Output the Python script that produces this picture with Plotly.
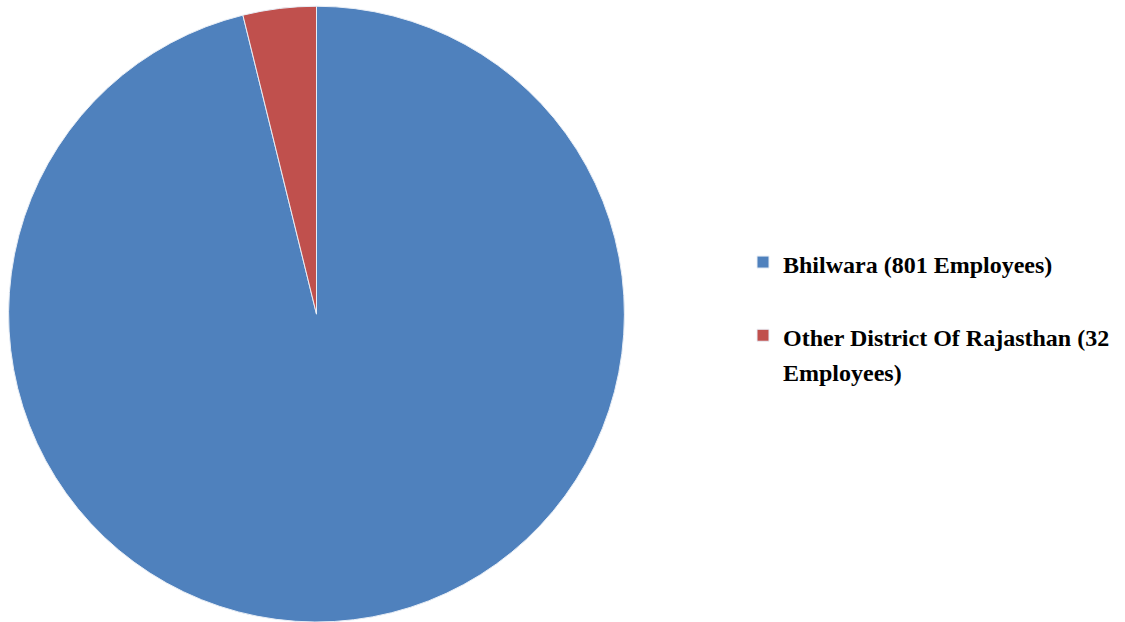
import plotly.graph_objects as go

# Employee origin split
label_style = "<span style='font-size:24px'>{}</span>"
districts = [
    label_style.format("Bhilwara (801 Employees)") + "<br>&nbsp;",
    label_style.format("Other District Of Rajasthan (32")
    + "<br>"
    + label_style.format("Employees)"),
]
employees = [801, 32]
colors = ["#4F81BD", "#C0504D"]

W, H = 1125, 622

fig = go.Figure(
    go.Pie(
        labels=districts,
        values=employees,
        marker=dict(colors=colors, line=dict(color="#E8EEF6", width=1)),
        sort=False,
        direction="clockwise",
        rotation=0,
        textinfo="none",
        hoverinfo="label+value+percent",
        domain=dict(x=[8.5 / W, 624.5 / W], y=[0.0, 0.99]),
    )
)

fig.update_layout(
    width=W,
    height=H,
    margin=dict(l=0, r=0, t=0, b=0),
    paper_bgcolor="white",
    plot_bgcolor="white",
    showlegend=True,
    legend=dict(
        x=743 / W,
        y=1 - 238 / H,
        xanchor="left",
        yanchor="top",
        valign="top",
        itemwidth=30,
        font=dict(family="Liberation Serif", size=27, color="black", weight="bold"),
        bgcolor="rgba(0,0,0,0)",
    ),
)

fig.write_html("out.html")
